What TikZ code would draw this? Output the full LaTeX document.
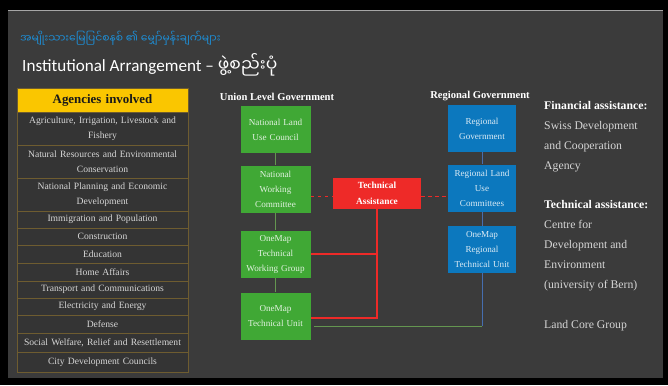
\documentclass[tikz,border=0pt]{standalone}
\usepackage{fontspec}
\setmainfont{Liberation Serif}
\newfontfamily\titlefont{Carlito}
\newfontfamily\mmfont[Script=Myanmar]{Noto Sans Myanmar UI}
\usetikzlibrary{positioning}

\definecolor{panel}{RGB}{59,59,59}
\definecolor{mmblue}{RGB}{30,140,210}
\definecolor{hdyellow}{RGB}{250,198,0}
\definecolor{cellgray}{RGB}{52,52,52}
\definecolor{sepgold}{RGB}{110,92,48}
\definecolor{boxgreen}{RGB}{64,168,53}
\definecolor{boxblue}{RGB}{12,120,190}
\definecolor{tared}{RGB}{238,42,40}
\definecolor{linkgreen}{RGB}{100,150,80}
\definecolor{linkblue}{RGB}{70,110,175}
\definecolor{softtext}{RGB}{214,214,214}

\tikzset{
  agency/.style={fill=cellgray, draw=sepgold, line width=0.6pt, minimum width=5.13cm,
    text width=5.1cm, align=center, inner sep=0pt, text=softtext,
    font=\fontsize{8.2}{12.8}\selectfont},
  greenbox/.style={fill=boxgreen, minimum width=2.1cm, minimum height=1.41cm,
    text width=2.05cm, align=center, inner sep=0pt, text=white!85!boxgreen,
    font=\fontsize{7.8}{12.8}\selectfont},
  bluebox/.style={greenbox, fill=boxblue, minimum width=2.04cm, text=white!85!boxblue},
  head/.style={text=white, font=\fontsize{9}{11}\selectfont\bfseries, inner sep=0pt},
  side/.style={anchor=west, align=left, inner sep=0pt, text=softtext,
    font=\fontsize{10}{17}\selectfont},
  redline/.style={tared, line width=1.2pt},
}

\begin{document}
\begin{tikzpicture}[x=0.03cm, y=-0.03cm]
  % frame
  \fill[black] (0,0) rectangle (668,385);
  \fill[panel] (8,10) rectangle (663,378);
  \draw[gray!70, line width=0.4pt] (8,10) -- (663,10);

  % titles
  \node[anchor=west, inner sep=0pt, text=mmblue, font=\mmfont\fontsize{9.2}{11}\selectfont] (mm) at (20,38) {အမျိုးသားမြေပြင်စနစ် ၏ မျှော်မှန်းချက်များ};
  \node[anchor=west, inner sep=0pt, text=white, font=\titlefont\fontsize{14.6}{16}\selectfont] (title) at (22,65) {Institutional Arrangement – {\mmfont ဖွဲ့စည်းပုံ}};

  % agencies table
  \node[agency, fill=hdyellow, text=black!90, minimum height=0.72cm, font=\fontsize{11}{13}\selectfont\bfseries] (hd) at (102.5,100) {Agencies involved};
  \node[agency, minimum height=0.99cm] (a1) at (102.5,128.5) {Agriculture, Irrigation, Livestock and\\ Fishery};
  \node[agency, minimum height=0.99cm] (a2) at (102.5,161.5) {Natural Resources and Environmental\\ Conservation};
  \node[agency, minimum height=0.99cm] (a3) at (102.5,194.5) {National Planning and Economic\\ Development};
  \node[agency, minimum height=0.51cm] (a4) at (102.5,219.5) {Immigration and Population};
  \node[agency, minimum height=0.51cm] (a5) at (102.5,236.5) {Construction};
  \node[agency, minimum height=0.54cm] (a6) at (102.5,254) {Education};
  \node[agency, minimum height=0.54cm] (a7) at (102.5,272) {Home Affairs};
  \node[agency, minimum height=0.51cm] (a8) at (102.5,289.5) {Transport and Communications};
  \node[agency, minimum height=0.51cm] (a9) at (102.5,306.5) {Electricity and Energy};
  \node[agency, minimum height=0.54cm] (a10) at (102.5,324) {Defense};
  \node[agency, minimum height=0.57cm] (a11) at (102.5,342.5) {Social Welfare, Relief and Resettlement};
  \node[agency, minimum height=0.6cm] (a12) at (102.5,362) {City Development Councils};

  % union level
  \node[head] (ulg) at (277,97) {Union Level Government};
  \node[greenbox] (NLUC) at (275.5,129.5) {National Land\\ Use Council};
  \node[greenbox] (NWC) at (275.5,189) {National\\ Working\\ Committee};
  \node[greenbox] (TWG) at (275.5,254) {OneMap\\ Technical\\ Working Group};
  \node[greenbox] (TU) at (275.5,316) {OneMap\\ Technical Unit};
  \draw[linkgreen, line width=0.8pt] (NLUC) -- (NWC);
  \draw[linkgreen, line width=0.8pt] (NWC) -- (TWG);
  \draw[linkgreen, line width=0.8pt] (TWG) -- (TU);

  % regional level
  \node[head] (rg) at (480,96) {Regional Government};
  \node[bluebox] (RG) at (482,128.5) {Regional\\ Government};
  \node[bluebox] (RLUC) at (482,188) {Regional Land\\ Use\\ Committees};
  \node[bluebox] (ORTU) at (482,249.5) {OneMap\\ Regional\\ Technical Unit};
  \draw[linkblue, line width=0.8pt] (RG) -- (RLUC);
  \draw[linkblue, line width=0.8pt] (RLUC) -- (ORTU);

  % technical assistance
  \node[fill=tared, minimum width=2.64cm, minimum height=0.93cm, text width=2.5cm, align=center,
    inner sep=0pt, text=white, font=\fontsize{8}{14}\selectfont\bfseries] (TA) at (377,193.5) {Technical\\ Assistance};
  \coordinate (dl) at ([yshift=-0.23cm]NWC.east);
  \draw[tared, dashed, line width=0.8pt] (dl) -- (dl -| TA.west);
  \draw[tared, dashed, line width=0.8pt] (dl -| TA.east) -- (dl -| RLUC.west);
  \draw[redline] (TWG.east) -- (TWG.east -| TA.south);
  \draw[redline] (TA.south) |- ([yshift=-0.06cm]TU.east);

  % link to regional unit
  \coordinate (tuout) at ([xshift=0.09cm, yshift=-0.3cm]TU.east);
  \draw[linkblue, line width=0.8pt] (ORTU.south) -- (ORTU.south |- tuout);
  \draw[linkgreen, line width=0.8pt] (tuout) -- (ORTU.south |- tuout);

  % assistance texts
  \node[side] (fin) at (544,137) {\textcolor{white}{\bfseries Financial assistance:}\\ Swiss Development\\ and Cooperation\\ Agency};
  \node[side] (tech) at (544,246) {\textcolor{white}{\bfseries Technical assistance:}\\ Centre for\\ Development and\\ Environment\\ (university of Bern)};
  \node[side] (lcg) at (544,326) {Land Core Group};
\end{tikzpicture}
\end{document}
